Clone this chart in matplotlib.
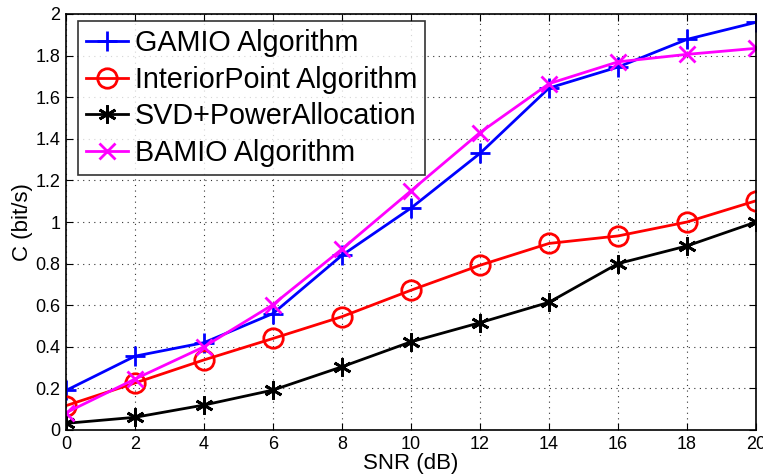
import matplotlib
matplotlib.use("Agg")
import matplotlib.pyplot as plt

snr = [0, 2, 4, 6, 8, 10, 12, 14, 16, 18, 20]
gamio = [0.19, 0.355, 0.42, 0.56, 0.84, 1.067, 1.33, 1.644, 1.745, 1.878, 1.96]
interior = [0.117, 0.226, 0.337, 0.44, 0.545, 0.672, 0.792, 0.897, 0.933, 1.0, 1.102]
svd = [0.032, 0.061, 0.12, 0.192, 0.304, 0.424, 0.516, 0.614, 0.80, 0.885, 1.0]
bamio = [0.083, 0.245, 0.40, 0.603, 0.87, 1.15, 1.43, 1.665, 1.77, 1.806, 1.835]

xticks = [0, 2, 4, 6, 8, 10, 12, 14, 16, 18, 20]
yticks = [0, 0.2, 0.4, 0.6, 0.8, 1.0, 1.2, 1.4, 1.6, 1.8, 2.0]
ytick_labels = ["0", "0.2", "0.4", "0.6", "0.8", "1", "1.2", "1.4", "1.6", "1.8", "2"]

plt.rcParams['font.family'] = ['Liberation Sans', 'DejaVu Sans']

fig = plt.figure(figsize=(7.63, 4.75), dpi=100)
ax = fig.add_axes([66/763, 1-430/475, (756-66)/763, (430-14)/475])

lw = 2.0
ms = 14
ax.plot(snr, gamio, color='#0000ff', marker='+', ms=ms, mew=2, lw=lw, label='GAMIO Algorithm')
ax.plot(snr, interior, color='#ff0000', marker='o', ms=ms, mew=2, mfc='none', lw=lw, label='InteriorPoint Algorithm')
ax.plot(snr, svd, color='black', marker=(6, 2, 0), ms=ms - 1, mew=2, lw=lw, label='SVD+PowerAllocation')
ax.plot(snr, bamio, color='#ff00ff', marker='x', ms=ms - 2, mew=2, lw=lw, label='BAMIO Algorithm')

ax.set_xlim(0, 20)
ax.set_ylim(0, 2)
ax.set_xticks(xticks)
ax.set_yticks(yticks)
ax.set_yticklabels(ytick_labels)
ax.tick_params(direction='in', top=True, right=True, labelsize=13, length=5, pad=4)
ax.grid(True, linestyle=(0, (1, 4)), color='#333333', linewidth=0.8)
for s in ax.spines.values():
    s.set_linewidth(1.2)

ax.set_xlabel('SNR (dB)', fontsize=16, labelpad=0)
ax.set_ylabel('C (bit/s)', fontsize=16, labelpad=2)

leg = ax.legend(loc='upper left', bbox_to_anchor=(12/690, 1 - 7/416), fontsize=20.7,
                frameon=True, fancybox=False, edgecolor='black', borderpad=0.28,
                labelspacing=0.3, handlelength=1.45, handletextpad=0.25, borderaxespad=0)
leg.get_frame().set_linewidth(1.2)

fig.savefig('out.png', dpi=100)
